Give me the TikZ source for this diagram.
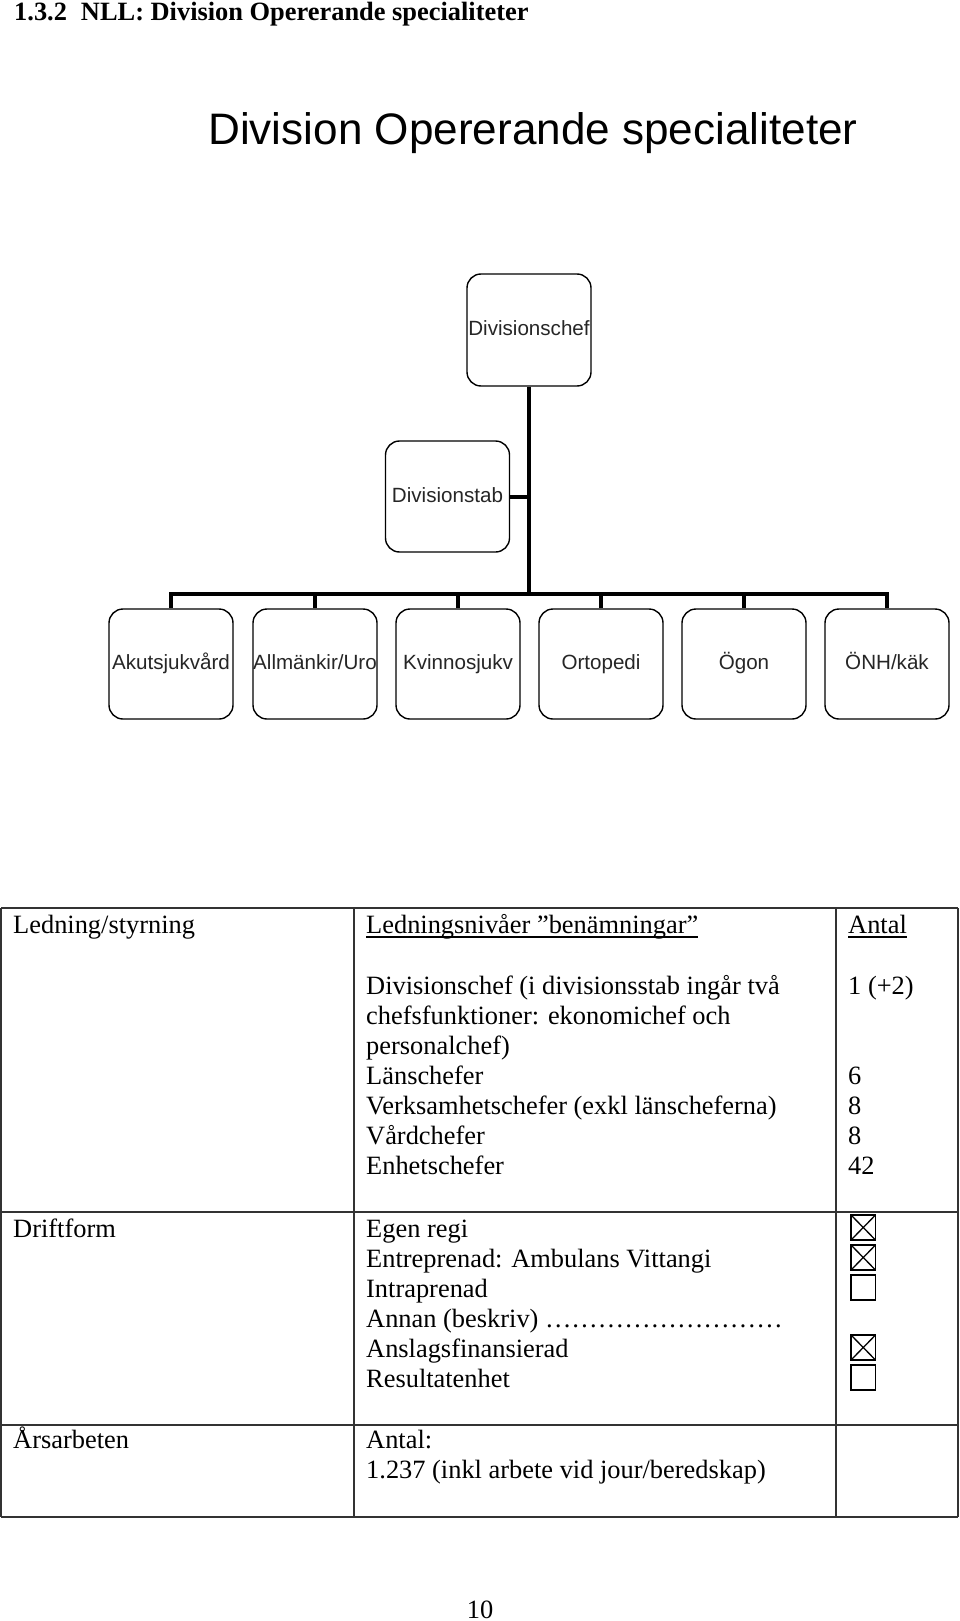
\documentclass[tikz,border=0pt]{standalone}
\usepackage{fontspec}
\setmainfont{Liberation Serif}
\newfontfamily\arialfam{Liberation Sans}
\newcommand\tabfnt{\fontsize{26.4}{30}\selectfont}
\newcommand\orgfnt{\arialfam\fontsize{20.6}{24}\selectfont}
\newcommand\titlefnt{\arialfam\fontsize{44.1}{50}\selectfont}
\begin{document}
\begin{tikzpicture}[x=1pt,y=-1pt,
  tx/.style={inner sep=0pt, anchor=base west, font=\tabfnt},
  orgbox/.style={draw, line width=1.4pt, rounded corners=14pt, minimum width=124pt, minimum height=110pt, inner sep=0pt, text height=15pt, text depth=4pt, font=\orgfnt, text=black!85},
  conn/.style={line width=4pt},
  gridline/.style={line width=1.5pt, draw=black!80},
  cbox/.style={line width=1.3pt}]
\useasboundingbox (0,0) rectangle (960,1621);
\fill[white] (0,0) rectangle (960,1621);

% heading
\node[tx, font=\tabfnt\bfseries] (heading) at (14,21) {1.3.2\hspace{14pt}NLL: Division Opererande specialiteter};
\node[inner sep=0pt, anchor=base west, font=\titlefnt] (title) at (208,145) {Division Opererande specialiteter};

% org chart
\node[orgbox, minimum height=112pt] (chef) at (529,330) {Divisionschef};
\node[orgbox, minimum height=111pt] (stab) at (447.5,496.5) {Divisionstab};
\node[orgbox] (c1) at (171,664) {Akutsjukvård};
\node[orgbox] (c2) at (315,664) {Allmänkir/Uro};
\node[orgbox] (c3) at (458,664) {Kvinnosjukv};
\node[orgbox] (c4) at (601,664) {Ortopedi};
\node[orgbox] (c5) at (744,664) {Ögon};
\node[orgbox] (c6) at (887,664) {ÖNH/käk};
\coordinate (bus) at (529,594);
\draw[conn] (chef.south) -- (bus);
\draw[conn] (stab.east) -- (stab.east -| bus);
\draw[conn] (c1.north) -- (c1.north |- bus) -- (c6.north |- bus) -- (c6.north);
\foreach \i in {2,...,5} \draw[conn] (c\i.north) -- (c\i.north |- bus);

% table grid
\foreach \yy in {908,1212,1425,1517} \draw[gridline] (1,\yy) -- (958,\yy);
\foreach \xx in {1,354,836,958} \draw[gridline] (\xx,908) -- (\xx,1517);

% row 1
\node[tx] (r1a) at (13,933) {Ledning/styrning};
\node[tx] (r1h) at (366,933) {Ledningsnivåer ”benämningar”};
\draw[line width=1.2pt] ([yshift=-4pt]r1h.base west) -- ([yshift=-4pt]r1h.base east);
\node[tx] (r1n) at (848,933) {Antal};
\draw[line width=1.2pt] ([yshift=-4pt]r1n.base west) -- ([yshift=-4pt]r1n.base east);
\node[tx] (l1) at (366,994) {Divisionschef (i divisionsstab ingår två};
\node[tx] (l2) at (366,1024) {chefsfunktioner: ekonomichef och};
\node[tx] (l3) at (366,1054) {personalchef)};
\node[tx] (l4) at (366,1084) {Länschefer};
\node[tx] (l5) at (366,1114) {Verksamhetschefer (exkl länscheferna)};
\node[tx] (l6) at (366,1144) {Vårdchefer};
\node[tx] (l7) at (366,1174) {Enhetschefer};
\node[tx] (n1) at (848,994) {1 (+2)};
\node[tx] (n4) at (848,1084) {6};
\node[tx] (n5) at (848,1114) {8};
\node[tx] (n6) at (848,1144) {8};
\node[tx] (n7) at (848,1174) {42};

% row 2
\node[tx] (r2a) at (13,1237) {Driftform};
\node[tx] (d1) at (366,1237) {Egen regi};
\node[tx] (d2) at (366,1267) {Entreprenad: Ambulans Vittangi};
\node[tx] (d3) at (366,1297) {Intraprenad};
\node[tx] (d4) at (366,1327) {Annan (beskriv) ………………………};
\node[tx] (d5) at (366,1357) {Anslagsfinansierad};
\node[tx] (d6) at (366,1387) {Resultatenhet};
\foreach \t/\c in {1215/1,1245/1,1275/0,1335/1,1365/0}{
  \draw[cbox] (851,\t) rectangle (875.5,\t+25);
  \ifnum\c=1 \draw[cbox] (851,\t) -- (875.5,\t+25) (851,\t+25) -- (875.5,\t); \fi
}

% row 3
\node[tx] (r3a) at (13,1448) {Årsarbeten};
\node[tx] (a1) at (366,1448) {Antal:};
\node[tx] (a2) at (366,1478) {1.237 (inkl arbete vid jour/beredskap)};

% page number
\node[tx, anchor=base] (page) at (480,1618) {10};
\end{tikzpicture}
\end{document}
